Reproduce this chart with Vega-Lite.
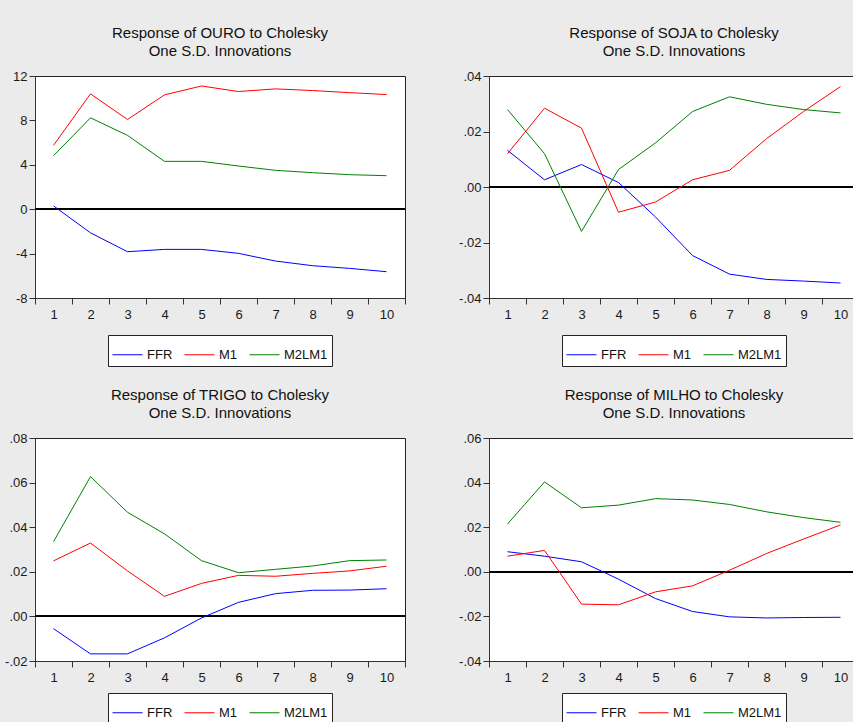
{
  "$schema": "https://vega.github.io/schema/vega-lite/v6.json",
  "background": "#ebebeb",
  "padding": {"left": 4, "top": 25, "right": 0, "bottom": 0},
  "autosize": {"type": "pad"},
  "data": {"values": [
    {"p":"OURO","h":1,"FFR":0.3,"M1":5.75,"M2LM1":4.82},
    {"p":"OURO","h":2,"FFR":-2.13,"M1":10.39,"M2LM1":8.23},
    {"p":"OURO","h":3,"FFR":-3.83,"M1":8.08,"M2LM1":6.65},
    {"p":"OURO","h":4,"FFR":-3.62,"M1":10.3,"M2LM1":4.31},
    {"p":"OURO","h":5,"FFR":-3.62,"M1":11.1,"M2LM1":4.31},
    {"p":"OURO","h":6,"FFR":-3.98,"M1":10.6,"M2LM1":3.89},
    {"p":"OURO","h":7,"FFR":-4.67,"M1":10.84,"M2LM1":3.5},
    {"p":"OURO","h":8,"FFR":-5.09,"M1":10.69,"M2LM1":3.29},
    {"p":"OURO","h":9,"FFR":-5.33,"M1":10.5,"M2LM1":3.11},
    {"p":"OURO","h":10,"FFR":-5.63,"M1":10.33,"M2LM1":3.02},
    {"p":"SOJA","h":1,"FFR":0.0132,"M1":0.012,"M2LM1":0.0279},
    {"p":"SOJA","h":2,"FFR":0.0026,"M1":0.0284,"M2LM1":0.012},
    {"p":"SOJA","h":3,"FFR":0.0081,"M1":0.0212,"M2LM1":-0.016},
    {"p":"SOJA","h":4,"FFR":0.0016,"M1":-0.0091,"M2LM1":0.0063},
    {"p":"SOJA","h":5,"FFR":-0.0108,"M1":-0.0054,"M2LM1":0.0159},
    {"p":"SOJA","h":6,"FFR":-0.0247,"M1":0.0026,"M2LM1":0.0272},
    {"p":"SOJA","h":7,"FFR":-0.0314,"M1":0.006,"M2LM1":0.0325},
    {"p":"SOJA","h":8,"FFR":-0.0333,"M1":0.0174,"M2LM1":0.0298},
    {"p":"SOJA","h":9,"FFR":-0.0339,"M1":0.0272,"M2LM1":0.0279},
    {"p":"SOJA","h":10,"FFR":-0.0346,"M1":0.0362,"M2LM1":0.0267},
    {"p":"TRIGO","h":1,"FFR":-0.0055,"M1":0.0249,"M2LM1":0.0335},
    {"p":"TRIGO","h":2,"FFR":-0.0168,"M1":0.0329,"M2LM1":0.0627},
    {"p":"TRIGO","h":3,"FFR":-0.0168,"M1":0.0204,"M2LM1":0.0467},
    {"p":"TRIGO","h":4,"FFR":-0.0096,"M1":0.009,"M2LM1":0.037},
    {"p":"TRIGO","h":5,"FFR":-0.0007,"M1":0.0148,"M2LM1":0.025},
    {"p":"TRIGO","h":6,"FFR":0.0063,"M1":0.0184,"M2LM1":0.0196},
    {"p":"TRIGO","h":7,"FFR":0.0102,"M1":0.018,"M2LM1":0.0211},
    {"p":"TRIGO","h":8,"FFR":0.0117,"M1":0.0193,"M2LM1":0.0226},
    {"p":"TRIGO","h":9,"FFR":0.0118,"M1":0.0204,"M2LM1":0.025},
    {"p":"TRIGO","h":10,"FFR":0.0124,"M1":0.0225,"M2LM1":0.0253},
    {"p":"MILHO","h":1,"FFR":0.009,"M1":0.007,"M2LM1":0.0214},
    {"p":"MILHO","h":2,"FFR":0.007,"M1":0.0096,"M2LM1":0.0403},
    {"p":"MILHO","h":3,"FFR":0.0045,"M1":-0.0145,"M2LM1":0.0287},
    {"p":"MILHO","h":4,"FFR":-0.0033,"M1":-0.0148,"M2LM1":0.0299},
    {"p":"MILHO","h":5,"FFR":-0.012,"M1":-0.009,"M2LM1":0.0328},
    {"p":"MILHO","h":6,"FFR":-0.0178,"M1":-0.0063,"M2LM1":0.0322},
    {"p":"MILHO","h":7,"FFR":-0.0202,"M1":0.0007,"M2LM1":0.0302},
    {"p":"MILHO","h":8,"FFR":-0.0207,"M1":0.0082,"M2LM1":0.0269},
    {"p":"MILHO","h":9,"FFR":-0.0205,"M1":0.0147,"M2LM1":0.0243},
    {"p":"MILHO","h":10,"FFR":-0.0204,"M1":0.021,"M2LM1":0.0222}
  ]},
  "transform": [{"fold": ["FFR","M1","M2LM1"], "as": ["s","v"]}],
  "columns": 2,
  "spacing": {"row": 20, "column": 52},
  "resolve": {"scale": {"x": "independent", "y": "independent", "color": "independent"}, "legend": {"color": "independent"}, "axis": {"x": "independent", "y": "independent"}},
  "concat": [
    {
      "width": 370, "height": 222,
      "title": {"text": ["Response of OURO to Cholesky", "One S.D. Innovations"]},
      "transform": [{"filter": "datum.p === 'OURO'"}],
      "layer": [
        {"mark": {"type": "rule", "color": "#000000", "strokeWidth": 1}, "encoding": {"y": {"datum": 0, "type": "quantitative"}}},
        {"mark": {"type": "line", "strokeWidth": 1},
         "encoding": {
           "x": {"field": "h", "type": "ordinal", "scale": {"type": "band", "paddingInner": 0, "paddingOuter": 0}, "axis": {"labelAngle": 0, "tickBand": "extent", "labelPadding": 4}},
           "y": {"field": "v", "type": "quantitative", "scale": {"domain": [-8, 12], "nice": false, "zero": false}, "axis": {"values": [-8, -4, 0, 4, 8, 12], "labelExpr": "replace(format(datum.value, 'd'), '\u2212', '-')"}},
           "color": {"field": "s", "type": "nominal", "scale": {"domain": ["FFR","M1","M2LM1"], "range": ["#0000ff","#ff0000","#008000"]}}
         }}
      ]
    },
    {
      "width": 370, "height": 222,
      "title": {"text": ["Response of SOJA to Cholesky", "One S.D. Innovations"]},
      "transform": [{"filter": "datum.p === 'SOJA'"}],
      "layer": [
        {"mark": {"type": "rule", "color": "#000000", "strokeWidth": 1}, "encoding": {"y": {"datum": 0, "type": "quantitative"}}},
        {"mark": {"type": "line", "strokeWidth": 1},
         "encoding": {
           "x": {"field": "h", "type": "ordinal", "scale": {"type": "band", "paddingInner": 0, "paddingOuter": 0}, "axis": {"labelAngle": 0, "tickBand": "extent", "labelPadding": 4}},
           "y": {"field": "v", "type": "quantitative", "scale": {"domain": [-0.04, 0.04], "nice": false, "zero": false}, "axis": {"values": [-0.04, -0.02, 0, 0.02, 0.04], "labelExpr": "replace(replace(format(datum.value, '.2f'), '\u2212', '-'), '0.', '.')"}},
           "color": {"field": "s", "type": "nominal", "scale": {"domain": ["FFR","M1","M2LM1"], "range": ["#0000ff","#ff0000","#008000"]}}
         }}
      ]
    },
    {
      "width": 370, "height": 223,
      "title": {"text": ["Response of TRIGO to Cholesky", "One S.D. Innovations"]},
      "transform": [{"filter": "datum.p === 'TRIGO'"}],
      "layer": [
        {"mark": {"type": "rule", "color": "#000000", "strokeWidth": 1}, "encoding": {"y": {"datum": 0, "type": "quantitative"}}},
        {"mark": {"type": "line", "strokeWidth": 1},
         "encoding": {
           "x": {"field": "h", "type": "ordinal", "scale": {"type": "band", "paddingInner": 0, "paddingOuter": 0}, "axis": {"labelAngle": 0, "tickBand": "extent", "labelPadding": 4}},
           "y": {"field": "v", "type": "quantitative", "scale": {"domain": [-0.02, 0.08], "nice": false, "zero": false}, "axis": {"values": [-0.02, 0, 0.02, 0.04, 0.06, 0.08], "labelExpr": "replace(replace(format(datum.value, '.2f'), '\u2212', '-'), '0.', '.')"}},
           "color": {"field": "s", "type": "nominal", "scale": {"domain": ["FFR","M1","M2LM1"], "range": ["#0000ff","#ff0000","#008000"]}, "legend": {"offset": 9}}
         }}
      ]
    },
    {
      "width": 370, "height": 223,
      "title": {"text": ["Response of MILHO to Cholesky", "One S.D. Innovations"]},
      "transform": [{"filter": "datum.p === 'MILHO'"}],
      "layer": [
        {"mark": {"type": "rule", "color": "#000000", "strokeWidth": 1}, "encoding": {"y": {"datum": 0, "type": "quantitative"}}},
        {"mark": {"type": "line", "strokeWidth": 1},
         "encoding": {
           "x": {"field": "h", "type": "ordinal", "scale": {"type": "band", "paddingInner": 0, "paddingOuter": 0}, "axis": {"labelAngle": 0, "tickBand": "extent", "labelPadding": 4}},
           "y": {"field": "v", "type": "quantitative", "scale": {"domain": [-0.04, 0.06], "nice": false, "zero": false}, "axis": {"values": [-0.04, -0.02, 0, 0.02, 0.04, 0.06], "labelExpr": "replace(replace(format(datum.value, '.2f'), '\u2212', '-'), '0.', '.')"}},
           "color": {"field": "s", "type": "nominal", "scale": {"domain": ["FFR","M1","M2LM1"], "range": ["#0000ff","#ff0000","#008000"]}, "legend": {"offset": 9}}
         }}
      ]
    }
  ],
  "config": {
    "font": "Liberation Sans",
    "view": {"fill": "#ffffff", "stroke": "#222222", "strokeWidth": 1},
    "axis": {"title": null, "grid": false, "labelFontSize": 13, "labelColor": "#1a1a1a", "tickColor": "#333333", "domainColor": "#333333", "tickSize": 6, "labelPadding": 2},
    "title": {"fontSize": 15, "fontWeight": "normal", "color": "#111111", "lineHeight": 18, "offset": 11, "anchor": "middle"},
    "legend": {"orient": "bottom", "direction": "horizontal", "title": null, "symbolType": "stroke", "symbolSize": 900, "symbolStrokeWidth": 1, "labelFontSize": 13, "labelColor": "#111111", "labelOffset": 4, "columnPadding": 9, "padding": 4, "strokeColor": "#222222", "fillColor": "#ffffff", "offset": 14, "layout": {"bottom": {"anchor": "middle"}}}
  }
}
